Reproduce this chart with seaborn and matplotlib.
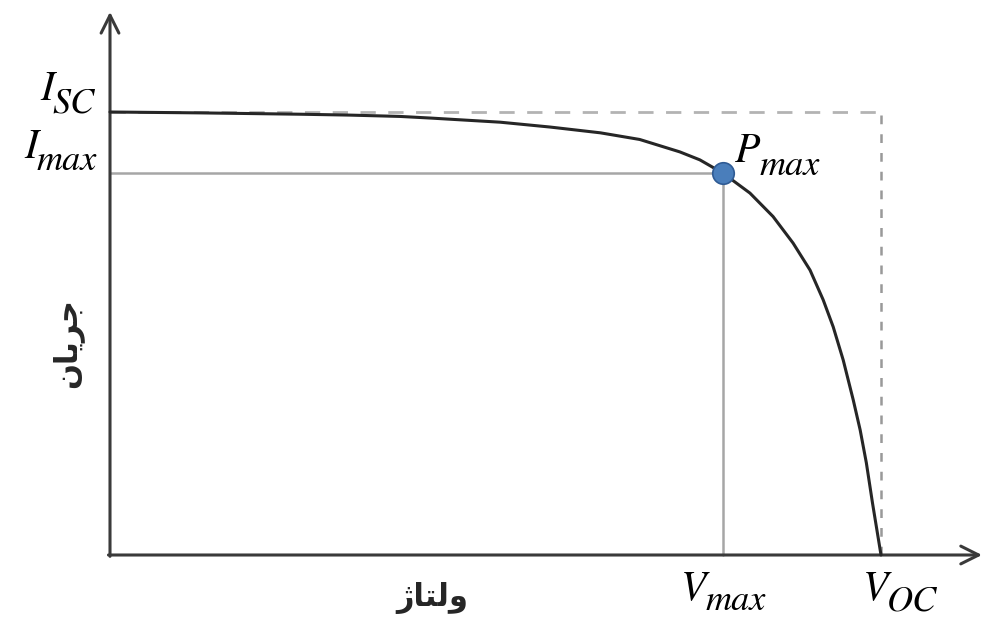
import matplotlib.pyplot as plt
import seaborn as sns

# I-V curve of a solar cell (normalised: V_oc = 1, I_sc = 1)
voltage = [0.0, 0.117, 0.246, 0.311, 0.376, 0.419, 0.506, 0.571, 0.636, 0.687,
           0.739, 0.765, 0.795, 0.830, 0.860, 0.886, 0.908, 0.925, 0.938, 0.951,
           0.964, 0.973, 0.981, 0.989, 1.0]
current = [1.0, 0.998, 0.995, 0.993, 0.990, 0.986, 0.977, 0.966, 0.953, 0.938,
           0.910, 0.892, 0.862, 0.817, 0.764, 0.704, 0.643, 0.576, 0.515, 0.440,
           0.350, 0.282, 0.208, 0.117, 0.0]

v_max, i_max = 0.795, 0.862
v_oc, i_sc = 1.0, 1.0

# Persian labels in presentation forms, visual order (matplotlib does no shaping)
xlabel_fa = "\uFB8A\uFE8E\uFE98\uFEDF\uFEED"   # ولتاژ
ylabel_fa = "\uFEE5\uFE8E\uFEF3\uFEAE\uFE9F"   # جریان

sns.set_theme(style="white")
plt.rcParams["font.family"] = ["DejaVu Sans"]

fig = plt.figure(figsize=(9.9, 6.19), dpi=100)
ax = fig.add_axes([0, 0, 1, 1])
ax.set_xlim(-110 / 771, 880 / 771)
ax.set_ylim(-64 / 443, 555 / 443)
ax.axis("off")

# reference lines to the maximum power point
ax.plot([0, v_max], [i_max, i_max], color="#a6a6a6", lw=1.8, zorder=1)
ax.plot([v_max, v_max], [0, i_max], color="#a6a6a6", lw=1.8, zorder=1)
# dashed box of I_sc / V_oc
ax.plot([0, v_oc], [i_sc, i_sc], color="#b3b3b3", lw=2.0, ls=(0, (5.5, 4.5)), zorder=1)
ax.plot([v_oc, v_oc], [0, i_sc], color="#999999", lw=1.8, ls=(0, (3.5, 4)), zorder=1)

sns.lineplot(x=voltage, y=current, sort=False, color="#262626", lw=2.2, ax=ax, zorder=3)
sns.scatterplot(x=[v_max], y=[i_max], s=240, color="#4a7ebb", edgecolor="#2f5b94",
                linewidth=1.2, ax=ax, zorder=4)

# axes with arrows
arrow = dict(arrowstyle="->", lw=2.2, color="#3a3a3a", mutation_scale=32, shrinkA=0, shrinkB=0)
ax.annotate("", xy=(1.131, 0), xytext=(-0.002, 0), arrowprops=arrow, zorder=2)
ax.annotate("", xy=(0, 1.226), xytext=(0, -0.003), arrowprops=arrow, zorder=2)

main_font = dict(family="STIXGeneral", style="italic", fontsize=30, color="black")
sub_font = dict(family="STIXGeneral", style="italic", fontsize=26, color="black")


def label_left(main, sub, xy, offset, drop=7.6):
    m = ax.annotate(main, xy=xy, xytext=offset, textcoords="offset points",
                    ha="left", va="baseline", **main_font)
    ax.annotate(sub, xy=(1, 0), xycoords=m, xytext=(-1, -drop), textcoords="offset points",
                ha="left", va="bottom", **sub_font)


def label_right(main, sub, xy, offset, rise=7.6):
    s = ax.annotate(sub, xy=xy, xytext=offset, textcoords="offset points",
                    ha="right", va="baseline", **sub_font)
    ax.annotate(main, xy=(0, 0), xycoords=s, xytext=(1, rise), textcoords="offset points",
                ha="right", va="bottom", **main_font)


label_right("I", "SC", (0, i_sc), (-11, -0.7))
label_right("I", "max", (0, i_max), (-9.4, 2))
label_left("P", "max", (v_max, i_max), (9, 8))
label_left("V", "max", (v_max, 0), (-30, -31.7), drop=6.6)
label_left("V", "OC", (v_oc, 0), (-13, -31.7), drop=6.6)

fig.text(0.437, 0.034, xlabel_fa, fontsize=22, fontweight="bold", ha="center", va="center")
fig.text(0.068, 0.446, ylabel_fa, fontsize=22, fontweight="bold", rotation=90,
         ha="center", va="center")

fig.savefig("out.png", dpi=100)
